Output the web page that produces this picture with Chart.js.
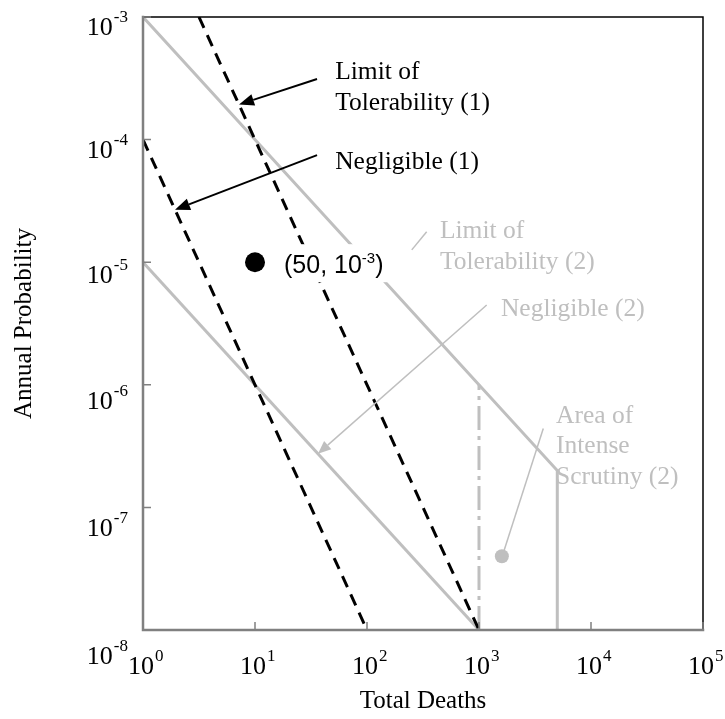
<!DOCTYPE html>
<html>
<head>
<meta charset="utf-8">
<script src="https://cdn.jsdelivr.net/npm/chart.js@4.4.1/dist/chart.umd.min.js"></script>
<style>
  html, body { margin: 0; padding: 0; background: #fff; }
  #wrap { width: 725px; height: 719px; position: relative; }
</style>
</head>
<body>
<div id="wrap"><canvas id="chart"></canvas></div>
<script>
// decade ticks, labels are drawn as 10^exp
const xTicks = [1, 10, 100, 1000, 10000, 100000];
const xTickExp = ['0', '1', '2', '3', '4', '5'];
const yTicks = [1e-3, 1e-4, 1e-5, 1e-6, 1e-7, 1e-8];
const yTickExp = ['-3', '-4', '-5', '-6', '-7', '-8'];

// criterion lines (x = total deaths, y = annual probability)
const tol1X = [3.16, 1000];
const tol1Y = [1e-3, 1e-8];
const neg1X = [1, 100];
const neg1Y = [1e-4, 1e-8];
const tol2X = [1, 5000, 5000];
const tol2Y = [1e-3, 2e-7, 1e-8];
const neg2X = [1, 1000];
const neg2Y = [1e-5, 1e-8];
const scrutinyX = [1000, 1000];
const scrutinyY = [1e-8, 1e-6];

// markers
const eventX = [10];
const eventY = [1e-5];
const scrutinyDotX = [1600];
const scrutinyDotY = [4e-8];

const GRAY = '#BFBFBF';
const AXIS = '#808080';
const SERIF = '"Liberation Serif", "Times New Roman", serif';
const SANS = '"Liberation Sans", Arial, sans-serif';

// callout text, anchored (left, first baseline) in data units
const notes = [
  { lines: ['Limit of', 'Tolerability (1)'], x: 52, y: 3.12e-4, color: '#000' },
  { lines: ['Negligible (1)'], x: 52, y: 5.75e-5, color: '#000' },
  { lines: ['Limit of', 'Tolerability (2)'], x: 448, y: 1.57e-5, color: GRAY },
  { lines: ['Negligible (2)'], x: 1570, y: 3.64e-6, color: GRAY },
  { lines: ['Area of', 'Intense', 'Scrutiny (2)'], x: 4870, y: 4.88e-7, color: GRAY }
];
// leader lines / arrows, ends in data units
const pointers = [
  { from: [35.8, 3.12e-4], to: [7.2, 1.93e-4], color: '#000', width: 2, head: [15, 6] },
  { from: [35.8, 7.48e-5], to: [1.93, 2.68e-5], color: '#000', width: 2, head: [15, 6] },
  { from: [341, 1.77e-5], to: [251, 1.26e-5], color: GRAY, width: 1.5, head: null },
  { from: [1172, 4.48e-6], to: [36.5, 2.74e-7], color: GRAY, width: 1.5, head: [13, 5.5] },
  { from: [3750, 4.4e-7], to: [1604, 3.94e-8], color: GRAY, width: 1.5, head: null }
];

function pts(xs, ys) { return xs.map((v, i) => ({ x: v, y: ys[i] })); }

function line(xs, ys, color, dash) {
  return {
    data: pts(xs, ys), showLine: true, borderColor: color, borderWidth: 3,
    borderDash: dash || [], pointRadius: 0, fill: false
  };
}

function pow10(ctx, exp, x, base, rightAlign) {
  ctx.font = '26px ' + SERIF;
  const wb = ctx.measureText('10').width;
  ctx.font = '17px ' + SERIF;
  const we = ctx.measureText(exp).width;
  const left = rightAlign ? x - wb - we - 1 : x - wb / 2;
  ctx.textAlign = 'left';
  ctx.textBaseline = 'alphabetic';
  ctx.font = '26px ' + SERIF;
  ctx.fillText('10', left, base);
  ctx.font = '17px ' + SERIF;
  ctx.fillText(exp, left + wb + 1, base - 13);
}

const overlay = {
  id: 'overlay',
  afterDatasetsDraw(chart) {
    const { ctx, chartArea: a, scales: { x, y } } = chart;
    ctx.save();

    // label of the black marker sits on a white box that hides the lines behind it
    const mx = x.getPixelForValue(eventX[0]) + 29;
    const my = y.getPixelForValue(eventY[0]) + 11;
    ctx.font = '25px ' + SANS;
    const w1 = ctx.measureText('(50, 10').width;
    ctx.font = '15px ' + SANS;
    const w2 = ctx.measureText('-3').width;
    ctx.font = '25px ' + SANS;
    const w3 = ctx.measureText(')').width;
    ctx.fillStyle = '#fff';
    ctx.fillRect(mx - 5, my - 29, w1 + w2 + w3 + 10, 38);
    ctx.fillStyle = '#000';
    ctx.textAlign = 'left';
    ctx.textBaseline = 'alphabetic';
    ctx.fillText('(50, 10', mx, my);
    ctx.fillText(')', mx + w1 + w2, my);
    ctx.font = '15px ' + SANS;
    ctx.fillText('-3', mx + w1, my - 10);

    // frame
    ctx.lineCap = 'square';
    ctx.strokeStyle = '#000';
    ctx.lineWidth = 1.5;
    ctx.beginPath();
    ctx.moveTo(a.left, a.top); ctx.lineTo(a.right, a.top); ctx.lineTo(a.right, a.bottom);
    ctx.stroke();
    ctx.strokeStyle = AXIS;
    ctx.lineWidth = 2.5;
    ctx.beginPath();
    ctx.moveTo(a.left, a.top); ctx.lineTo(a.left, a.bottom); ctx.lineTo(a.right, a.bottom);
    ctx.stroke();

    // inward tick marks
    ctx.lineWidth = 1.5;
    ctx.lineCap = 'butt';
    ctx.beginPath();
    xTicks.forEach(v => {
      const px = x.getPixelForValue(v);
      ctx.moveTo(px, a.bottom); ctx.lineTo(px, a.bottom - 8);
    });
    yTicks.forEach(v => {
      const py = y.getPixelForValue(v);
      ctx.moveTo(a.left, py); ctx.lineTo(a.left + 8, py);
    });
    ctx.stroke();

    // tick labels
    ctx.fillStyle = '#000';
    xTicks.forEach((v, i) => pow10(ctx, xTickExp[i], x.getPixelForValue(v) - 2, a.bottom + 44, false));
    yTicks.forEach((v, i) => {
      const py = y.getPixelForValue(v);
      const frac = (py - a.top) / (a.bottom - a.top);
      pow10(ctx, yTickExp[i], a.left - 15, py + 18 + 16 * frac * frac, true);
    });

    // axis titles
    ctx.font = '25px ' + SERIF;
    ctx.textAlign = 'center';
    ctx.textBaseline = 'alphabetic';
    ctx.fillText('Total Deaths', (a.left + a.right) / 2, a.bottom + 78);
    ctx.save();
    ctx.translate(31, (a.top + a.bottom) / 2);
    ctx.rotate(-Math.PI / 2);
    ctx.fillText('Annual Probability', 0, 0);
    ctx.restore();

    // callout text
    ctx.textAlign = 'left';
    ctx.font = '25.5px ' + SERIF;
    notes.forEach(n => {
      ctx.fillStyle = n.color;
      const px = x.getPixelForValue(n.x);
      const py = y.getPixelForValue(n.y);
      n.lines.forEach((t, k) => ctx.fillText(t, px, py + k * 30.5));
    });

    // pointers
    pointers.forEach(p => {
      const x0 = x.getPixelForValue(p.from[0]), y0 = y.getPixelForValue(p.from[1]);
      const x1 = x.getPixelForValue(p.to[0]), y1 = y.getPixelForValue(p.to[1]);
      ctx.strokeStyle = p.color;
      ctx.fillStyle = p.color;
      ctx.lineWidth = p.width;
      const ang = Math.atan2(y1 - y0, x1 - x0);
      let ex = x1, ey = y1;
      if (p.head) {
        ex = x1 - p.head[0] * Math.cos(ang);
        ey = y1 - p.head[0] * Math.sin(ang);
      }
      ctx.beginPath();
      ctx.moveTo(x0, y0); ctx.lineTo(ex, ey);
      ctx.stroke();
      if (p.head) {
        const h = p.head[1];
        ctx.beginPath();
        ctx.moveTo(x1, y1);
        ctx.lineTo(ex + h * Math.sin(ang), ey - h * Math.cos(ang));
        ctx.lineTo(ex - h * Math.sin(ang), ey + h * Math.cos(ang));
        ctx.closePath();
        ctx.fill();
      }
    });

    ctx.restore();
  }
};

new Chart(document.getElementById('chart'), {
  type: 'scatter',
  data: {
    datasets: [
      { data: pts(eventX, eventY), pointRadius: 10, backgroundColor: '#000', borderWidth: 0 },
      { data: pts(scrutinyDotX, scrutinyDotY), pointRadius: 7, backgroundColor: GRAY, borderWidth: 0 },
      line(tol1X, tol1Y, '#000', [12, 8]),
      line(neg1X, neg1Y, '#000', [12, 8]),
      line(tol2X, tol2Y, GRAY),
      line(neg2X, neg2Y, GRAY),
      line(scrutinyX, scrutinyY, GRAY, [24, 6, 4, 6])
    ]
  },
  options: {
    responsive: true,
    maintainAspectRatio: false,
    animation: false,
    layout: { padding: { left: 143, right: 22, top: 17, bottom: 89 } },
    plugins: { legend: { display: false }, tooltip: { enabled: false } },
    scales: {
      x: { type: 'logarithmic', min: 1, max: 100000, display: false },
      y: { type: 'logarithmic', min: 1e-8, max: 1e-3, display: false }
    }
  },
  plugins: [overlay]
});
</script>
</body>
</html>
